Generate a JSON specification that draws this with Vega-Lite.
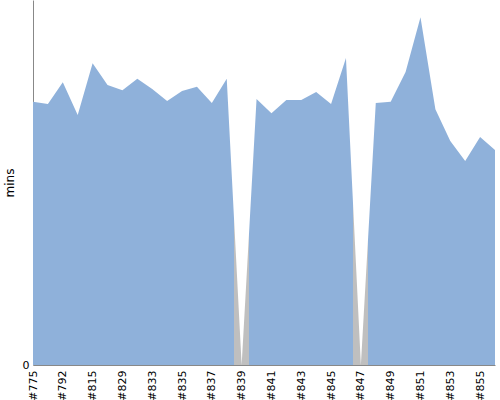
{
  "$schema": "https://vega.github.io/schema/vega-lite/v6.json",
  "width": 462,
  "height": 365,
  "padding": {"top": 0, "left": 3, "right": 5, "bottom": 5},
  "config": {"view": {"stroke": null}, "font": "DejaVu Sans"},
  "data": {"values": [
    {"build": "#775", "mins": 72.1},
    {"build": "#780", "mins": 71.5},
    {"build": "#792", "mins": 77.5},
    {"build": "#800", "mins": 68.5},
    {"build": "#815", "mins": 82.7},
    {"build": "#820", "mins": 76.7},
    {"build": "#829", "mins": 75.3},
    {"build": "#831", "mins": 78.4},
    {"build": "#833", "mins": 75.6},
    {"build": "#834", "mins": 72.3},
    {"build": "#835", "mins": 75.1},
    {"build": "#836", "mins": 76.2},
    {"build": "#837", "mins": 71.8},
    {"build": "#838", "mins": 78.4},
    {"build": "#839", "mins": 0},
    {"build": "#840", "mins": 72.9},
    {"build": "#841", "mins": 69.0},
    {"build": "#842", "mins": 72.6},
    {"build": "#843", "mins": 72.6},
    {"build": "#844", "mins": 74.8},
    {"build": "#845", "mins": 71.5},
    {"build": "#846", "mins": 84.1},
    {"build": "#847", "mins": 0},
    {"build": "#848", "mins": 71.8},
    {"build": "#849", "mins": 72.1},
    {"build": "#850", "mins": 80.3},
    {"build": "#851", "mins": 95.3},
    {"build": "#852", "mins": 70.1},
    {"build": "#853", "mins": 61.4},
    {"build": "#854", "mins": 55.9},
    {"build": "#855", "mins": 62.5},
    {"build": "#856", "mins": 58.9}
  ]},
  "mark": {
    "type": "area",
    "interpolate": "linear",
    "color": {
      "gradient": "linear",
      "x1": 0, "x2": 1, "y1": 0, "y2": 0,
      "stops": [
        {"offset": 0, "color": "#8fb1da"},
        {"offset": 0.43548, "color": "#8fb1da"},
        {"offset": 0.43548, "color": "#bfbfbf"},
        {"offset": 0.46774, "color": "#bfbfbf"},
        {"offset": 0.46774, "color": "#8fb1da"},
        {"offset": 0.69355, "color": "#8fb1da"},
        {"offset": 0.69355, "color": "#bfbfbf"},
        {"offset": 0.72581, "color": "#bfbfbf"},
        {"offset": 0.72581, "color": "#8fb1da"},
        {"offset": 1, "color": "#8fb1da"}
      ]
    }
  },
  "encoding": {
    "x": {
      "field": "build",
      "type": "ordinal",
      "sort": null,
      "scale": {"type": "point", "padding": 0},
      "axis": {
        "title": null,
        "values": ["#775", "#792", "#815", "#829", "#833", "#835", "#837", "#839", "#841", "#843", "#845", "#847", "#849", "#851", "#853", "#855"],
        "labelAngle": -90,
        "labelAlign": "right",
        "labelBaseline": "middle",
        "labelFontSize": 11,
        "labelColor": "#000000",
        "labelPadding": 5,
        "ticks": false,
        "grid": false,
        "domainColor": "#888888"
      }
    },
    "y": {
      "field": "mins",
      "type": "quantitative",
      "scale": {"domain": [0, 100], "nice": false},
      "axis": {
        "title": "mins",
        "titleFontWeight": "normal",
        "titleFontSize": 12,
        "titleColor": "#000000",
        "values": [0],
        "labelFontSize": 11,
        "labelColor": "#000000",
        "ticks": false,
        "grid": false,
        "labelPadding": 4,
        "titlePadding": 6,
        "domainColor": "#888888"
      }
    }
  }
}
